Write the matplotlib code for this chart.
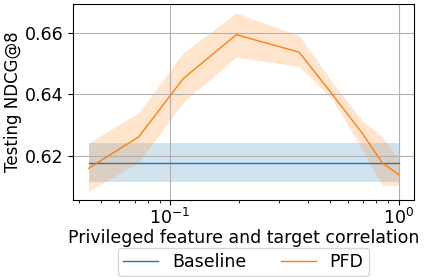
import matplotlib
matplotlib.use("Agg")
import matplotlib.pyplot as plt

# correlation values (x) and NDCG@8 results
corr = [0.044, 0.073, 0.114, 0.195, 0.367, 0.51, 0.69, 0.85, 1.0]
pfd_mean = [0.6159, 0.6262, 0.6451, 0.6595, 0.6538, 0.6403, 0.6276, 0.6177, 0.6139]
pfd_upper = [0.6242, 0.6341, 0.6535, 0.6666, 0.6592, 0.6444, 0.6317, 0.6262, 0.6191]
pfd_lower = [0.6085, 0.6179, 0.6373, 0.6522, 0.6491, 0.6388, 0.6222, 0.6104, 0.6104]

base_mean = 0.6178
base_upper = 0.6241
base_lower = 0.6115

plt.rcParams['font.size'] = 12.5

fig = plt.figure(figsize=(4.27, 2.77), dpi=100)
ax = fig.add_axes([0.171, 0.278, 0.7986, 0.7076])

# bands first, lines on top
ax.fill_between(corr, [base_lower] * len(corr), [base_upper] * len(corr), color='C0', alpha=0.2, lw=0)
ax.fill_between(corr, pfd_lower, pfd_upper, color='C1', alpha=0.2, lw=0)
ax.plot(corr, [base_mean] * len(corr), color='C0', lw=1, label='Baseline', zorder=3)
ax.plot(corr, pfd_mean, color='C1', lw=1, label='PFD', zorder=3)

ax.set_xscale('log')
ax.grid(True, which='major')
ax.set_yticks([0.62, 0.64, 0.66])
ax.tick_params(axis='x', pad=2)
ax.set_xlabel('Privileged feature and target correlation', labelpad=1)
ax.set_ylabel('Testing NDCG@8', fontsize=12, labelpad=2)
ax.legend(loc='upper center', bbox_to_anchor=(0.5, -0.245), ncol=2,
          borderaxespad=0, borderpad=0.3)

fig.savefig('out.png', dpi=100)
